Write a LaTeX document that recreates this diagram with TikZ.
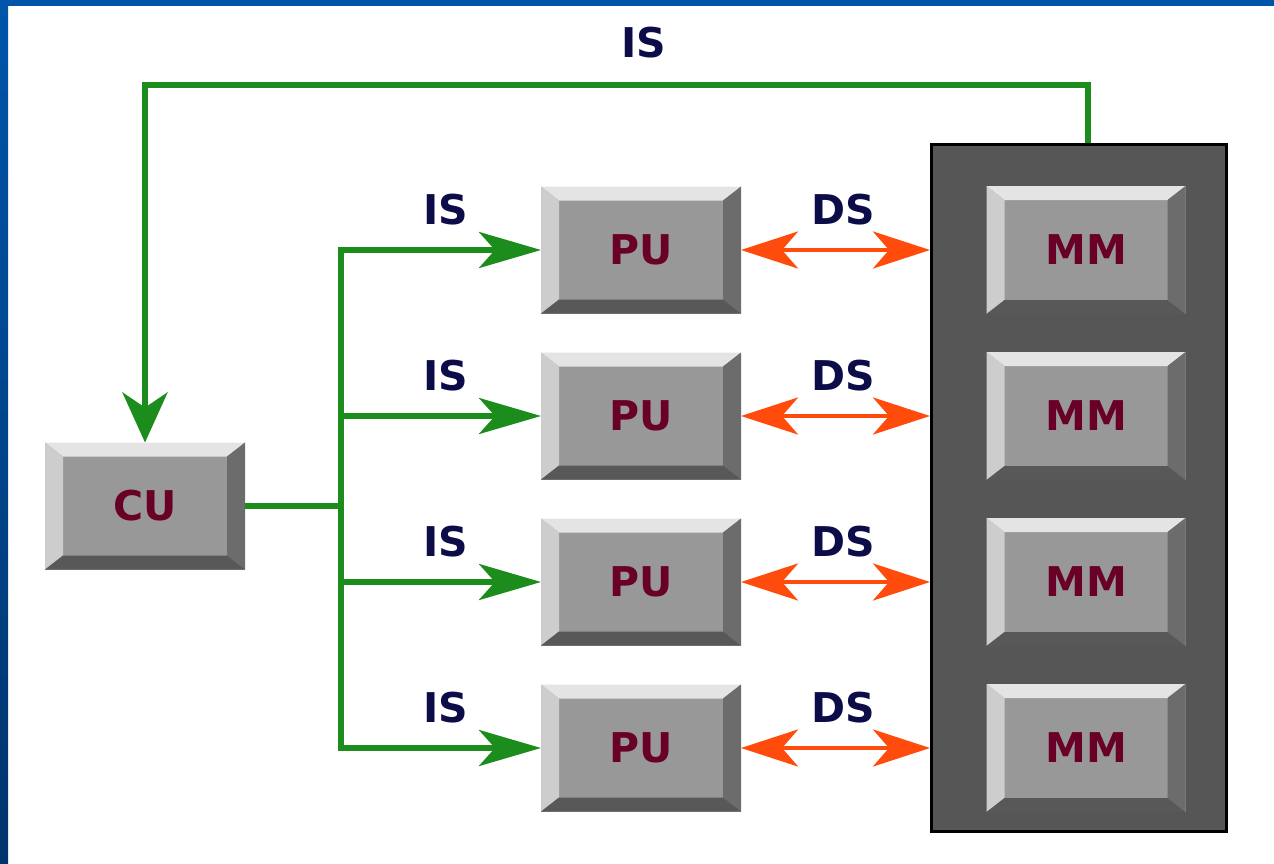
\documentclass[tikz,border=0pt]{standalone}
\usepackage{fontspec}
\newfontfamily\diafont{DejaVu Sans}
\usetikzlibrary{arrows.meta,calc}

\definecolor{frameblue}{RGB}{0,85,170}
\definecolor{framedark}{RGB}{0,52,108}
\definecolor{face}{RGB}{152,152,152}
\definecolor{bevtop}{RGB}{228,228,228}
\definecolor{bevleft}{RGB}{205,205,205}
\definecolor{bevright}{RGB}{108,108,108}
\definecolor{bevbottom}{RGB}{88,88,88}
\definecolor{memgray}{RGB}{86,86,86}
\definecolor{boxtext}{RGB}{105,0,40}
\definecolor{lbltext}{RGB}{12,12,72}
\definecolor{isgreen}{RGB}{28,140,28}
\definecolor{dsorange}{RGB}{255,75,12}

\tikzset{
  bevelbox/.style={rectangle, inner sep=0pt, outer sep=0pt,
    minimum width=200pt, minimum height=127pt, fill=face, text=boxtext,
    font=\diafont\bfseries\fontsize{41}{41}\selectfont,
    path picture={
      \coordinate (bnw) at (path picture bounding box.north west);
      \coordinate (bne) at (path picture bounding box.north east);
      \coordinate (bsw) at (path picture bounding box.south west);
      \coordinate (bse) at (path picture bounding box.south east);
      \fill[bevtop] (bnw) -- (bne) -- ([xshift=-18pt,yshift=-14pt]bne)
        -- ([xshift=18pt,yshift=-14pt]bnw) -- cycle;
      \fill[bevleft] (bnw) -- ([xshift=18pt,yshift=-14pt]bnw)
        -- ([xshift=18pt,yshift=14pt]bsw) -- (bsw) -- cycle;
      \fill[bevright] (bne) -- (bse) -- ([xshift=-18pt,yshift=14pt]bse)
        -- ([xshift=-18pt,yshift=-14pt]bne) -- cycle;
      \fill[bevbottom] (bsw) -- (bse) -- ([xshift=-18pt,yshift=14pt]bse)
        -- ([xshift=18pt,yshift=14pt]bsw) -- cycle;
    }},
  membox/.style={rectangle, inner sep=0pt, draw=black, line width=3pt,
    fill=memgray, minimum width=295pt, minimum height=687pt},
  lbl/.style={inner sep=0pt, text=lbltext,
    font=\diafont\bfseries\fontsize{41}{41}\selectfont},
  isline/.style={draw=isgreen, line width=5.5pt, line join=miter},
  sidetip/.style={-{Stealth[length=62pt,width=36pt,inset=16pt]}},
  downtip/.style={-{Stealth[length=50pt,width=45pt,inset=15pt]}},
  dsline/.style={draw=dsorange, line width=4.5pt,
    {Stealth[length=57pt,width=37pt,inset=16pt]}-{Stealth[length=57pt,width=37pt,inset=16pt]}},
}

\begin{document}
\begin{tikzpicture}[x=1pt,y=-1pt]
  % page and blue frame
  \fill[white] (0,0) rectangle (1274,864);
  \useasboundingbox (0,0) rectangle (1274,864);
  \shade[top color=frameblue, bottom color=framedark] (0,0) rectangle (8,864);
  \fill[frameblue] (0,0) rectangle (1274,6);

  % memory bank
  \node[membox] (mem) at (1079,488) {};
  \foreach \i/\y in {1/250,2/416,3/582,4/748}
    \node[bevelbox, minimum width=199pt, minimum height=128pt] (mm\i) at (1086,\y) {MM};

  % control unit and processing units
  \node[bevelbox] (cu) at (145,506) {CU};
  \foreach \i/\y in {1/250,2/416,3/582,4/748}
    \node[bevelbox] (pu\i) at (641,\y) {PU};

  % instruction stream from memory back to the control unit
  \coordinate (toplevel) at (0,85);
  \draw[isline, downtip] ([xshift=9pt]mem.north) |- (toplevel -| cu.north) -- (cu.north);
  \node[lbl] (istop) at (644,43) {IS};

  % instruction stream bus to the processing units
  \coordinate (busx) at (341,0);
  \draw[isline] (cu.east) -- (cu.east -| busx);
  \draw[isline, line cap=rect] (pu1.west -| busx) -- (pu4.west -| busx);
  \foreach \i in {1,...,4}
    \draw[isline, sidetip] (pu\i.west -| busx) -- (pu\i.west);

  % data streams between processing units and memory
  \foreach \i in {1,...,4}
    \draw[dsline] (pu\i.east) -- (pu\i.east -| mem.west);

  % stream labels
  \foreach \i/\y in {1/210,2/376,3/542,4/708} {
    \node[lbl] (is\i) at (446,\y) {IS};
    \node[lbl] (ds\i) at (843,\y) {DS};
  }
\end{tikzpicture}
\end{document}
